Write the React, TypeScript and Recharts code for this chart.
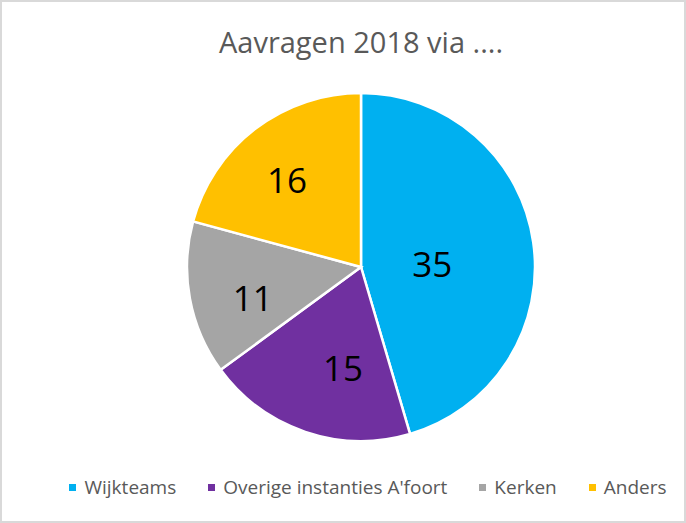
import * as React from 'react';
import { PieChart, Pie, Cell, Legend } from 'recharts';

const categories = ['Wijkteams', 'Overige instanties A\'foort', 'Kerken', 'Anders'];
const values = [35, 15, 11, 16];
const colors = ['#00B0F0', '#7030A0', '#A5A5A5', '#FFC000'];

const data = categories.map((name, i) => ({ name, value: values[i] }));

const FONT = '"Open Sans", sans-serif';
const RADIAN = Math.PI / 180;

// Excel "best fit" doesn't put labels exactly on the mid angle, so nudge them a bit
const labelDepth = [0.41, 0.584, 0.645, 0.661];
const labelTurn = [5, -8.5, -5, -2.7]; // degrees, clockwise

const renderLabel = (props: any) => {
    const { cx, cy, midAngle, outerRadius, index, value } = props;
    const r = outerRadius * labelDepth[index];
    const a = (midAngle - labelTurn[index]) * RADIAN;
    const x = cx + r * Math.cos(-a);
    const y = cy + r * Math.sin(-a);
    return (
        <text x={x} y={y} fill="#000000" fontSize={35} fontFamily={FONT} textAnchor="middle" dominantBaseline="central">
            {value}
        </text>
    );
};

const renderLegend = () => (
    <div style={{ display: 'flex', justifyContent: 'center', alignItems: 'center', fontFamily: FONT, fontSize: 19, color: '#595959', lineHeight: 1 }}>
        {categories.map((name, i) => (
            <div key={name} style={{ display: 'flex', alignItems: 'center', marginLeft: i === 0 ? 0 : 32 }}>
                <span style={{ display: 'inline-block', width: 7, height: 7, background: colors[i], marginRight: 8 }} />
                <span>{name}</span>
            </div>
        ))}
    </div>
);

const App: React.FC = () => {
    return (
        <div style={{ position: 'absolute', left: 0, top: 0, width: 686, height: 523, boxSizing: 'border-box', border: '2px solid #D9D9D9', background: '#FFFFFF' }}>
            <div style={{ position: 'absolute', left: 16, top: 25, width: 686, textAlign: 'center', fontFamily: FONT, fontSize: 29, color: '#595959', lineHeight: 1 }}>
                Aavragen 2018 via ....
            </div>
            <div style={{ position: 'absolute', left: -2, top: -2 }}>
                <PieChart width={686} height={523} margin={{ top: 0, right: 0, bottom: 0, left: 0 }}>
                    <Pie
                        data={data}
                        dataKey="value"
                        nameKey="name"
                        cx={361}
                        cy={267}
                        outerRadius={174}
                        startAngle={90}
                        endAngle={-270}
                        stroke="#FFFFFF"
                        strokeWidth={2.5}
                        label={renderLabel}
                        labelLine={false}
                        isAnimationActive={false}
                    >
                        {data.map((d, i) => (
                            <Cell key={d.name} fill={colors[i]} />
                        ))}
                    </Pie>
                    <Legend content={renderLegend} wrapperStyle={{ position: 'absolute', top: 478, left: 25, width: 686 }} />
                </PieChart>
            </div>
        </div>
    );
};

export default App;
